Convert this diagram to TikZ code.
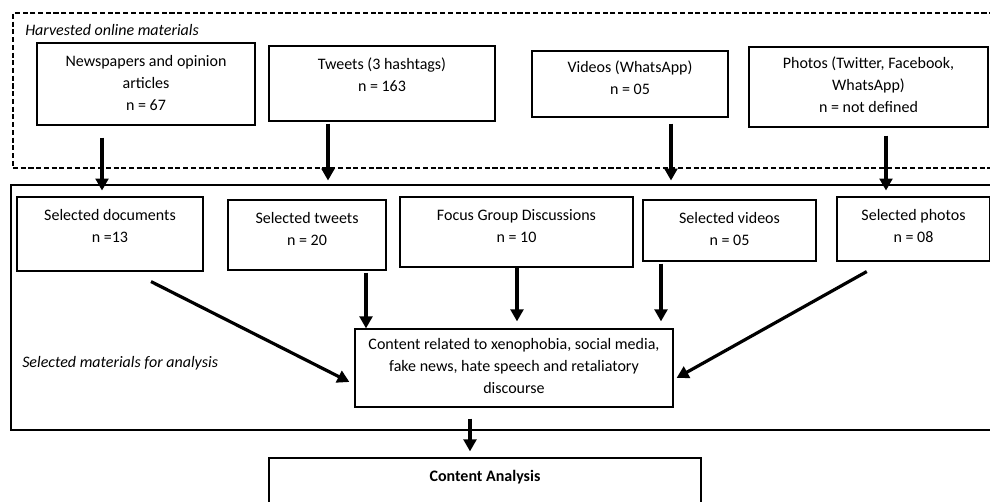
\documentclass[tikz,border=0pt]{standalone}
\usepackage{fontspec}
\setmainfont{Carlito}
\usetikzlibrary{arrows.meta,calc,fit}
\begin{document}
\begin{tikzpicture}[x=0.75pt,y=-0.75pt,
 box/.style={draw,line width=0.85pt,inner sep=0pt},
 frame/.style={draw,line width=1.15pt,inner sep=0pt},
 dframe/.style={frame,dash pattern=on 3.8pt off 2pt},
 txt/.style={align=center,font=\fontsize{12}{16.5}\selectfont,inner sep=0pt},
 itxt/.style={anchor=west,font=\fontsize{12}{14}\selectfont\itshape,inner sep=0pt},
 arr/.style={line width=2.4pt,-{Triangle[length=9pt,width=9.5pt]}},
]
\clip (0,0) rectangle (990,502);
\fill[white] (0,0) rectangle (990,502);
% frames
\node[dframe,fit={(13,13)(1010,168)}] (harv) {};
\node[frame,fit={(11,185)(1010,430)}] (sel) {};
\node[itxt] (harvlbl) at (25,30) {Harvested online materials};
\node[itxt] (sellbl) at (22,363) {Selected materials for analysis};
% top row
\node[box,fit={(37,43)(255,125)}] (news) {};
\node[box,fit={(269,46)(495,121)}] (tw) {};
\node[box,fit={(532,51)(728,117)}] (vid) {};
\node[box,fit={(749,47)(988,127)}] (pho) {};
\node[txt] (newst) at (146,83) {Newspapers and opinion\\articles\\n = 67};
\node[txt] (twt) at (382,75) {Tweets (3 hashtags)\\n = 163};
\node[txt] (vidt) at (630,78) {Videos (WhatsApp)\\n = 05};
\node[txt] (phot) at (868.5,85) {Photos (Twitter, Facebook,\\WhatsApp)\\n = not defined};
% second row
\node[box,fit={(17,197)(203,271)}] (doc) {};
\node[box,fit={(228,200)(386,270)}] (stw) {};
\node[box,fit={(400,197)(633,267)}] (fgd) {};
\node[box,fit={(643,200)(816,261)}] (svid) {};
\node[box,fit={(837,197)(989.5,261)}] (spho) {};
\node[txt] (doct) at (110,226) {Selected documents\\n =13};
\node[txt] (stwt) at (307,229) {Selected tweets\\n = 20};
\node[txt] (fgdt) at (516.5,226) {Focus Group Discussions\\n = 10};
\node[txt] (svidt) at (729.5,229) {Selected videos\\n = 05};
\node[txt] (sphot) at (913.5,226) {Selected photos\\n = 08};
% content
\node[box,fit={(355,329)(673,407)}] (cont) {};
\node[txt] (contt) at (514,366) {Content related to xenophobia, social media,\\fake news, hate speech and retaliatory\\discourse};
\node[box,fit={(269,458)(701,530)}] (ca) {};
\node[txt,font=\fontsize{12}{16.5}\selectfont\bfseries] (cat) at (485,477) {Content Analysis};
% arrows
\draw[arr] ($(news.south)+(-44,12)$) -- ($(news.south)+(-44,65)$);
\draw[arr] ($(tw.south)+(-54,2)$) -- ($(tw.south)+(-54,59)$);
\draw[arr] ($(vid.south)+(41,6)$) -- ($(vid.south)+(41,63)$);
\draw[arr] ($(pho.south)+(17.5,8)$) -- ($(pho.south)+(17.5,63)$);
\draw[arr] ($(doc.south)+(41,10)$) -- ($(cont.west)+(-5,14)$);
\draw[arr] ($(stw.south)+(59,2)$) -- ($(cont.north)+(-148,0)$);
\draw[arr] ($(fgd.south)+(0.5,0)$) -- ($(cont.north)+(3,-7)$);
\draw[arr] ($(svid.south)+(-68.5,2)$) -- ($(cont.north)+(147,-7)$);
\draw[arr] ($(spho.south)+(-46.5,10)$) -- ($(cont.east)+(3,10)$);
\draw[arr] ($(cont.south)+(-44,11)$) -- ($(ca.north)+(-15,-6)$);
\end{tikzpicture}
\end{document}
